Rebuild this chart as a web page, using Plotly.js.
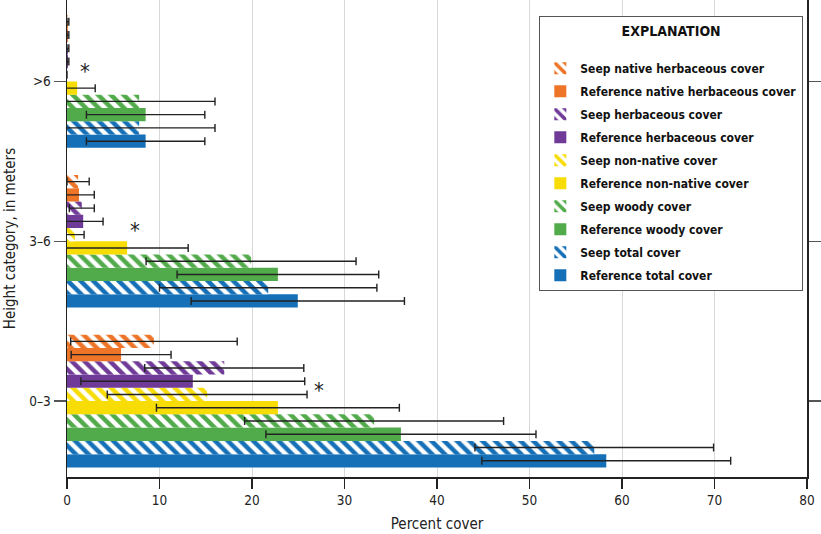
<!DOCTYPE html>
<html>
<head>
<meta charset="utf-8">
<script src="https://cdn.plot.ly/plotly-3.0.1.min.js"></script>
<style>
html,body{margin:0;padding:0;background:#fff}
#chart{width:821px;height:534px}
text{font-stretch:condensed !important;}
</style>
</head>
<body>
<div id="chart"></div>
<script>
// Height categories (bottom to top)
const categories = ['0–3', '3–6', '>6'];

// Values (percent cover) and error half-widths, per category [0–3, 3–6, >6]
const refTotal = [58.3, 24.95, 8.5];
const refTotalErr = [13.45, 11.53, 6.4];
const seepTotal = [57.0, 21.75, 7.8];
const seepTotalErr = [12.9, 11.75, 8.2];
const refWoody = [36.1, 22.8, 8.5];
const refWoodyErr = [14.6, 10.9, 6.4];
const seepWoody = [33.2, 19.9, 7.8];
const seepWoodyErr = [14.0, 11.35, 8.2];
const refNonNative = [22.8, 6.5, 1.1];
const refNonNativeErr = [13.13, 6.6, 1.95];
const seepNonNative = [15.15, 0.85, 0];
const seepNonNativeErr = [10.8, 1.0, 0];
const refHerb = [13.6, 1.75, 0.1];
const refHerbErr = [12.1, 2.15, 0.1];
const seepHerb = [17.0, 1.6, 0.1];
const seepHerbErr = [8.6, 1.35, 0.1];
const refNative = [5.85, 1.3, 0.1];
const refNativeErr = [5.4, 1.65, 0.1];
const seepNative = [9.4, 1.2, 0.1];
const seepNativeErr = [9.0, 1.2, 0.1];

// Significance markers: [x value, category index]
const sigX = [27.2, 7.3, 1.95];
const sigY = [0.065, 1.07, 2.065];

const xTicks = [0, 10, 20, 30, 40, 50, 60, 70, 80];

const FONT = '"DejaVu Sans", sans-serif';

const colors = {
  total: '#1570b8',
  woody: '#52ab4b',
  nonnative: '#f7dc05',
  herb: '#703b98',
  native: '#ee7527'
};

let rank = 100;
function trace(name, vals, errs, color, hatched) {
  const marker = {color: color, line: {width: 0}};
  if (hatched) {
    marker.color = '#ffffff';
    marker.pattern = {shape: '\\', fgcolor: color, bgcolor: '#ffffff', fgopacity: 1, size: 9, solidity: 0.5, fillmode: 'replace'};
  }
  rank -= 5;
  return {
    type: 'bar', orientation: 'h', name: name, legendgroup: name, legendrank: rank,
    x: vals, y: categories,
    error_x: {type: 'data', array: errs, symmetric: true, color: '#222', thickness: 1.4, width: 4},
    marker: marker
  };
}

const data = [
  trace('Reference total cover', refTotal, refTotalErr, colors.total, false),
  trace('Seep total cover', seepTotal, seepTotalErr, colors.total, true),
  trace('Reference woody cover', refWoody, refWoodyErr, colors.woody, false),
  trace('Seep woody cover', seepWoody, seepWoodyErr, colors.woody, true),
  trace('Reference non-native cover', refNonNative, refNonNativeErr, colors.nonnative, false),
  trace('Seep non-native cover', seepNonNative, seepNonNativeErr, colors.nonnative, true),
  trace('Reference herbaceous cover', refHerb, refHerbErr, colors.herb, false),
  trace('Seep herbaceous cover', seepHerb, seepHerbErr, colors.herb, true),
  trace('Reference native herbaceous cover', refNative, refNativeErr, colors.native, false),
  trace('Seep native herbaceous cover', seepNative, seepNativeErr, colors.native, true)
];

const annotations = sigX.map((x, i) => ({
  x: x, y: sigY[i], xref: 'x', yref: 'y', text: '*', showarrow: false,
  font: {family: FONT, size: 22, color: '#222'}, yanchor: 'middle'
}));

const layout = {
  width: 821, height: 534,
  margin: {l: 67, r: 14, t: 0, b: 57},
  paper_bgcolor: '#fff', plot_bgcolor: '#fff',
  barmode: 'group', bargap: 0.17, bargroupgap: 0,
  font: {family: FONT, size: 14, color: '#222'},
  showlegend: true,
  legend: {
    x: 0.638, y: 0.966, xanchor: 'left', yanchor: 'top',
    traceorder: 'grouped', tracegroupgap: 4,
    bgcolor: '#fff', bordercolor: '#555', borderwidth: 1.2,
    font: {family: FONT, size: 12, color: '#111', weight: 'bold'},
    title: {text: '<b>EXPLANATION</b><br>&nbsp;', side: 'top center', font: {family: FONT, size: 14, color: '#111'}},
    itemwidth: 30
  },
  xaxis: {
    range: [0, 80], tickvals: xTicks, ticktext: xTicks.map(String),
    showgrid: true, gridcolor: '#d8d8d8', gridwidth: 1,
    zeroline: false,
    showline: true, linecolor: '#222', linewidth: 1.5,
    ticks: 'outside', ticklen: 10, tickcolor: '#222', tickwidth: 1.5,
    tickfont: {family: FONT, size: 13.5, color: '#222'},
    title: {text: 'Percent cover', font: {family: FONT, size: 15, color: '#222'}, standoff: 12},
    automargin: false,
    fixedrange: true
  },
  yaxis: {
    type: 'category', categoryorder: 'array', categoryarray: categories,
    range: [-0.475, 2.51],
    showgrid: false, zeroline: false,
    showline: true, linecolor: '#222', linewidth: 1.5, mirror: 'ticks',
    ticks: 'outside', ticklen: 12, tickcolor: '#555', tickwidth: 1.5,
    tickfont: {family: FONT, size: 13.5, color: '#222'},
    title: {text: 'Height category, in meters', font: {family: FONT, size: 15, color: '#222'}, standoff: 10},
    automargin: false,
    fixedrange: true
  },
  annotations: annotations
};

Plotly.newPlot('chart', data, layout, {displayModeBar: false, staticPlot: true});
</script>
</body>
</html>
